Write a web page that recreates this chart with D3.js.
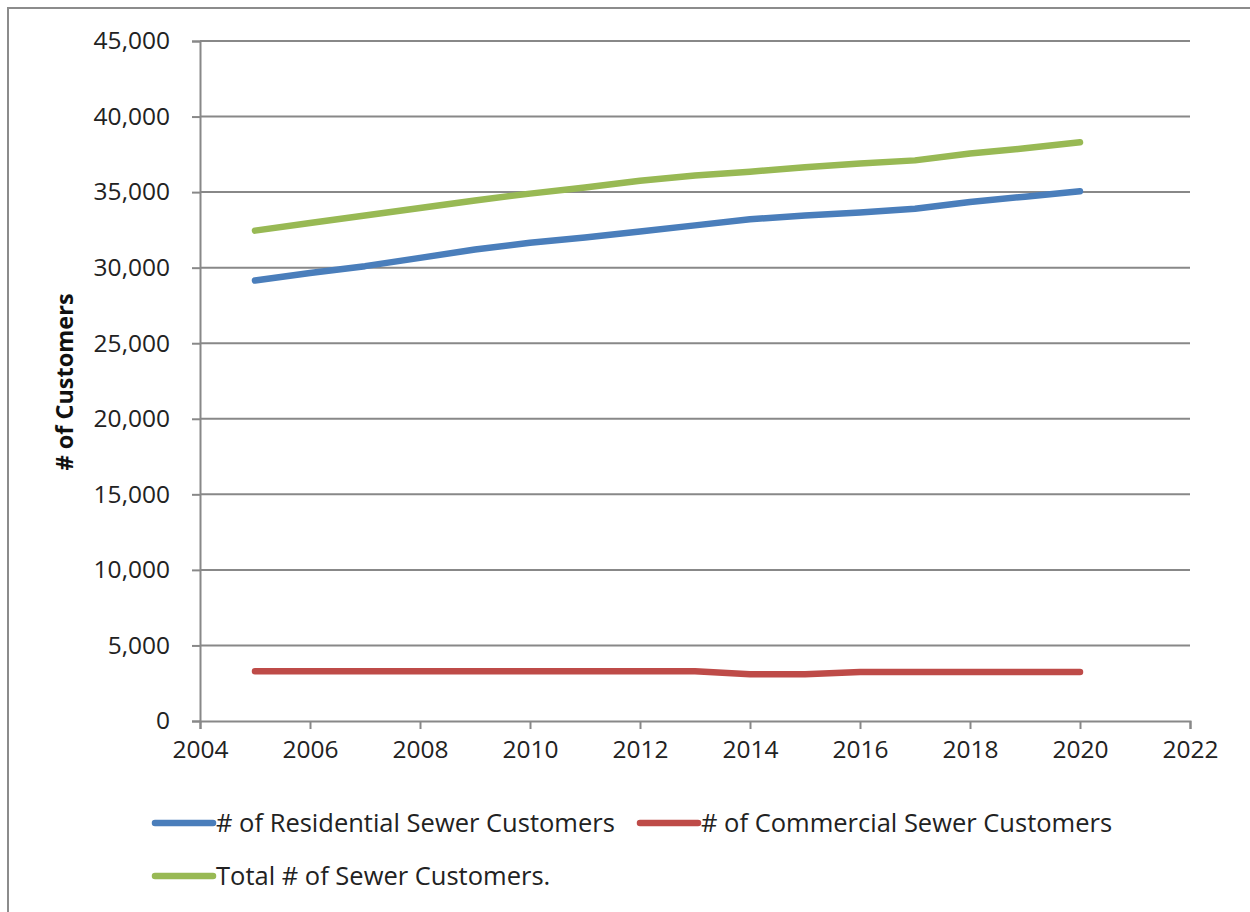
<!DOCTYPE html>
<html>
<head>
<meta charset="utf-8">
<script src="https://cdn.jsdelivr.net/npm/d3@7.9.0/dist/d3.min.js"></script>
<style>
  body { margin: 0; background: #fff; }
  svg { display: block; font-family: "Open Sans", "Noto Sans", sans-serif; }
</style>
</head>
<body>
<svg id="chart" width="1250" height="912"></svg>
<script>
// years on the x axis
const years = [2005, 2006, 2007, 2008, 2009, 2010, 2011, 2012, 2013, 2014, 2015, 2016, 2017, 2018, 2019, 2020];

// series values
const residential = [29150, 29650, 30100, 30650, 31200, 31650, 32000, 32400, 32800, 33200, 33450, 33650, 33900, 34350, 34700, 35050];
const commercial = [3300, 3300, 3300, 3300, 3300, 3300, 3300, 3300, 3300, 3100, 3100, 3250, 3250, 3250, 3250, 3250];
const total = [32450, 32950, 33450, 33950, 34450, 34900, 35300, 35750, 36100, 36350, 36650, 36900, 37100, 37550, 37900, 38300];

const seriesNames = ['# of Residential Sewer Customers', '# of Commercial Sewer Customers', 'Total # of Sewer Customers.'];
const seriesColors = ['#4a7ebb', '#be4b48', '#98b954'];

const xTicks = [2004, 2006, 2008, 2010, 2012, 2014, 2016, 2018, 2020, 2022];
const yTicks = [0, 5000, 10000, 15000, 20000, 25000, 30000, 35000, 40000, 45000];

const svg = d3.select('#chart');
const margin = { left: 200, right: 1190, top: 41, bottom: 721 };

const x = d3.scaleLinear().domain([2004, 2022]).range([margin.left, margin.right]);
const y = d3.scaleLinear().domain([0, 45000]).range([margin.bottom, margin.top]);

// outer frame (runs off right and bottom)
svg.append('rect')
   .attr('x', 8).attr('y', 8)
   .attr('width', 1260).attr('height', 920)
   .attr('fill', 'none')
   .attr('stroke', '#8c8c8c')
   .attr('stroke-width', 2);

// horizontal gridlines
svg.append('g')
   .selectAll('line')
   .data(yTicks.filter(d => d > 0))
   .join('line')
   .attr('x1', margin.left).attr('x2', margin.right)
   .attr('y1', d => y(d)).attr('y2', d => y(d))
   .attr('stroke', '#888')
   .attr('stroke-width', 2);

// y axis
const yAxis = svg.append('g')
   .attr('transform', `translate(${margin.left},0)`)
   .call(d3.axisLeft(y).tickValues(yTicks).tickSize(8).tickPadding(22)
      .tickFormat(d => d === 0 ? '0' : d3.format(',')(d)));
yAxis.select('.domain').attr('stroke', '#888').attr('stroke-width', 2);
yAxis.selectAll('.tick line').attr('stroke', '#888').attr('stroke-width', 2);
yAxis.selectAll('.tick text')
   .attr('font-size', 24.5)
   .attr('fill', '#222')
   .attr('font-family', '"Open Sans", sans-serif');

// x axis
const xAxis = svg.append('g')
   .attr('transform', `translate(0,${margin.bottom})`)
   .call(d3.axisBottom(x).tickValues(xTicks).tickSize(8).tickPadding(12)
      .tickFormat(d3.format('d')));
xAxis.select('.domain').attr('stroke', '#888').attr('stroke-width', 2);
xAxis.selectAll('.tick line').attr('stroke', '#888').attr('stroke-width', 2);
xAxis.selectAll('.tick text')
   .attr('font-size', 24.5)
   .attr('fill', '#222')
   .attr('font-family', '"Open Sans", sans-serif');

// y axis title
svg.append('text')
   .attr('transform', `translate(73,382) rotate(-90)`)
   .attr('text-anchor', 'middle')
   .attr('font-size', 23.5)
   .attr('font-weight', 'bold')
   .attr('fill', '#111')
   .text('# of Customers');

// lines
const line = d3.line()
   .x((d, i) => x(years[i]))
   .y(d => y(d));

[residential, commercial, total].forEach((values, i) => {
   svg.append('path')
      .datum(values)
      .attr('d', line)
      .attr('fill', 'none')
      .attr('stroke', seriesColors[i])
      .attr('stroke-width', 6.5)
      .attr('stroke-linecap', 'round')
      .attr('stroke-linejoin', 'round');
});

// legend
const legendPos = [[155, 823], [640, 823], [155, 876]];
seriesNames.forEach((name, i) => {
   const [lx, ly] = legendPos[i];
   const g = svg.append('g').attr('transform', `translate(${lx},${ly})`);
   g.append('line')
      .attr('x1', 0).attr('x2', 58)
      .attr('y1', 0).attr('y2', 0)
      .attr('stroke', seriesColors[i])
      .attr('stroke-width', 6.5)
      .attr('stroke-linecap', 'round');
   g.append('text')
      .attr('x', 61).attr('y', 0)
      .attr('dy', '0.35em')
      .attr('font-size', 25.5)
      .attr('fill', '#222')
      .text(name);
});
</script>
</body>
</html>
